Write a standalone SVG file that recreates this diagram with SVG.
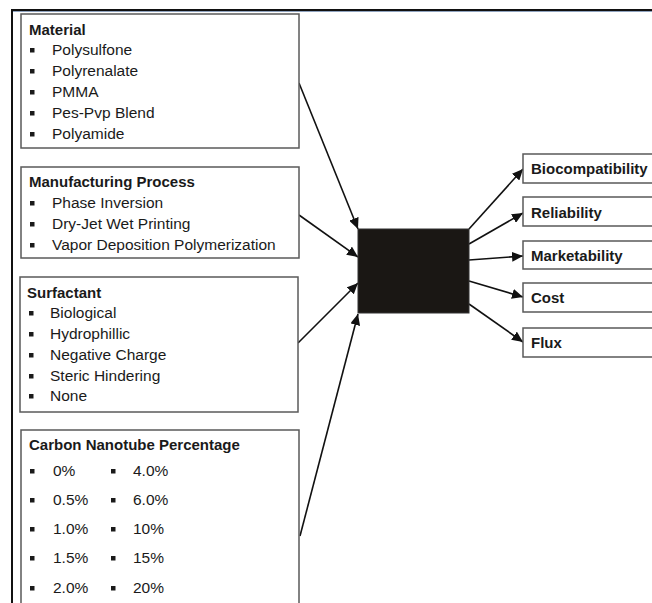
<svg xmlns="http://www.w3.org/2000/svg" width="652" height="603" viewBox="0 0 652 603">
<defs>
<marker id="ah" markerUnits="userSpaceOnUse" markerWidth="12" markerHeight="10" refX="11" refY="5" orient="auto">
<path d="M0,0 L11,5 L0,10 Z" fill="#111"/>
</marker>
<style>
.box{fill:#fff;stroke:#5a5a5a;stroke-width:1.5}
.t{font-family:"Liberation Sans",Arial,sans-serif;font-size:15.5px;fill:#1a1a1a}
.b{font-weight:bold;font-size:15px}
.bul{fill:#1a1a1a}
.edge{stroke:#111;stroke-width:1.6;fill:none;marker-end:url(#ah)}
</style>
</defs>
<rect width="652" height="603" fill="#fff"/>
<g id="frame">
<line x1="11" y1="10" x2="652" y2="10" stroke="#111" stroke-width="2"/>
<line x1="11" y1="11.5" x2="652" y2="11.5" stroke="#8fa3bf" stroke-width="1"/>
<line x1="12" y1="9" x2="12" y2="603" stroke="#111" stroke-width="2"/>
</g>
<g id="connectors">
<line class="edge" x1="299" y1="83" x2="358" y2="229"/>
<line class="edge" x1="299" y1="215" x2="358" y2="257"/>
<line class="edge" x1="298" y1="343" x2="358" y2="283"/>
<line class="edge" x1="300" y1="536" x2="358" y2="314"/>
<line class="edge" x1="469" y1="229" x2="523" y2="169"/>
<line class="edge" x1="469" y1="244" x2="523" y2="213"/>
<line class="edge" x1="469" y1="260" x2="523" y2="256"/>
<line class="edge" x1="469" y1="281" x2="523" y2="297"/>
<line class="edge" x1="469" y1="304" x2="523" y2="342"/>
</g>
<g id="material">
<rect class="box" x="21" y="14" width="278" height="134"/>
<text class="t b" x="29" y="35">Material</text>
<rect class="bul" x="30" y="48" width="4.5" height="4.5"/><text class="t" x="52" y="55">Polysulfone</text>
<rect class="bul" x="30" y="69" width="4.5" height="4.5"/><text class="t" x="52" y="76">Polyrenalate</text>
<rect class="bul" x="30" y="90" width="4.5" height="4.5"/><text class="t" x="52" y="97">PMMA</text>
<rect class="bul" x="30" y="111" width="4.5" height="4.5"/><text class="t" x="52" y="118">Pes-Pvp Blend</text>
<rect class="bul" x="30" y="132" width="4.5" height="4.5"/><text class="t" x="52" y="139">Polyamide</text>
</g>
<g id="manufacturing">
<rect class="box" x="21" y="167" width="278" height="91"/>
<text class="t b" x="29" y="187">Manufacturing Process</text>
<rect class="bul" x="30" y="201" width="4.5" height="4.5"/><text class="t" x="52" y="208">Phase Inversion</text>
<rect class="bul" x="30" y="222" width="4.5" height="4.5"/><text class="t" x="52" y="229">Dry-Jet Wet Printing</text>
<rect class="bul" x="30" y="243" width="4.5" height="4.5"/><text class="t" x="52" y="250">Vapor Deposition Polymerization</text>
</g>
<g id="surfactant">
<rect class="box" x="20" y="277" width="278" height="135"/>
<text class="t b" x="27" y="298">Surfactant</text>
<rect class="bul" x="29" y="311" width="4.5" height="4.5"/><text class="t" x="50" y="318">Biological</text>
<rect class="bul" x="29" y="332" width="4.5" height="4.5"/><text class="t" x="50" y="339">Hydrophillic</text>
<rect class="bul" x="29" y="353" width="4.5" height="4.5"/><text class="t" x="50" y="360">Negative Charge</text>
<rect class="bul" x="29" y="374" width="4.5" height="4.5"/><text class="t" x="50" y="381">Steric Hindering</text>
<rect class="bul" x="29" y="394" width="4.5" height="4.5"/><text class="t" x="50" y="401">None</text>
</g>
<g id="carbon">
<path class="box" d="M21,604 L21,430 L299,430 L299,604"/>
<text class="t b" x="29" y="450">Carbon Nanotube Percentage</text>
<rect class="bul" x="30" y="469" width="4.5" height="4.5"/><text class="t" x="53" y="476">0%</text>
<rect class="bul" x="111" y="469" width="4.5" height="4.5"/><text class="t" x="133" y="476">4.0%</text>
<rect class="bul" x="30" y="498" width="4.5" height="4.5"/><text class="t" x="53" y="505">0.5%</text>
<rect class="bul" x="111" y="498" width="4.5" height="4.5"/><text class="t" x="133" y="505">6.0%</text>
<rect class="bul" x="30" y="527" width="4.5" height="4.5"/><text class="t" x="53" y="534">1.0%</text>
<rect class="bul" x="111" y="527" width="4.5" height="4.5"/><text class="t" x="133" y="534">10%</text>
<rect class="bul" x="30" y="556" width="4.5" height="4.5"/><text class="t" x="53" y="563">1.5%</text>
<rect class="bul" x="111" y="556" width="4.5" height="4.5"/><text class="t" x="133" y="563">15%</text>
<rect class="bul" x="30" y="586" width="4.5" height="4.5"/><text class="t" x="53" y="593">2.0%</text>
<rect class="bul" x="111" y="586" width="4.5" height="4.5"/><text class="t" x="133" y="593">20%</text>
</g>
<g id="blackbox">
<rect x="358" y="229" width="111" height="84" fill="#1a1714" stroke="#333" stroke-width="1"/>
</g>
<g id="biocompatibility">
<path class="box" d="M653,154 L523,154 L523,183 L653,183"/>
<text class="t b" x="531" y="174">Biocompatibility</text>
</g>
<g id="reliability">
<path class="box" d="M653,197 L523,197 L523,226 L653,226"/>
<text class="t b" x="531" y="218">Reliability</text>
</g>
<g id="marketability">
<path class="box" d="M653,241 L523,241 L523,269 L653,269"/>
<text class="t b" x="531" y="261">Marketability</text>
</g>
<g id="cost">
<path class="box" d="M653,283 L523,283 L523,312 L653,312"/>
<text class="t b" x="531" y="303">Cost</text>
</g>
<g id="flux">
<path class="box" d="M653,328 L523,328 L523,357 L653,357"/>
<text class="t b" x="531" y="348">Flux</text>
</g>
</svg>
